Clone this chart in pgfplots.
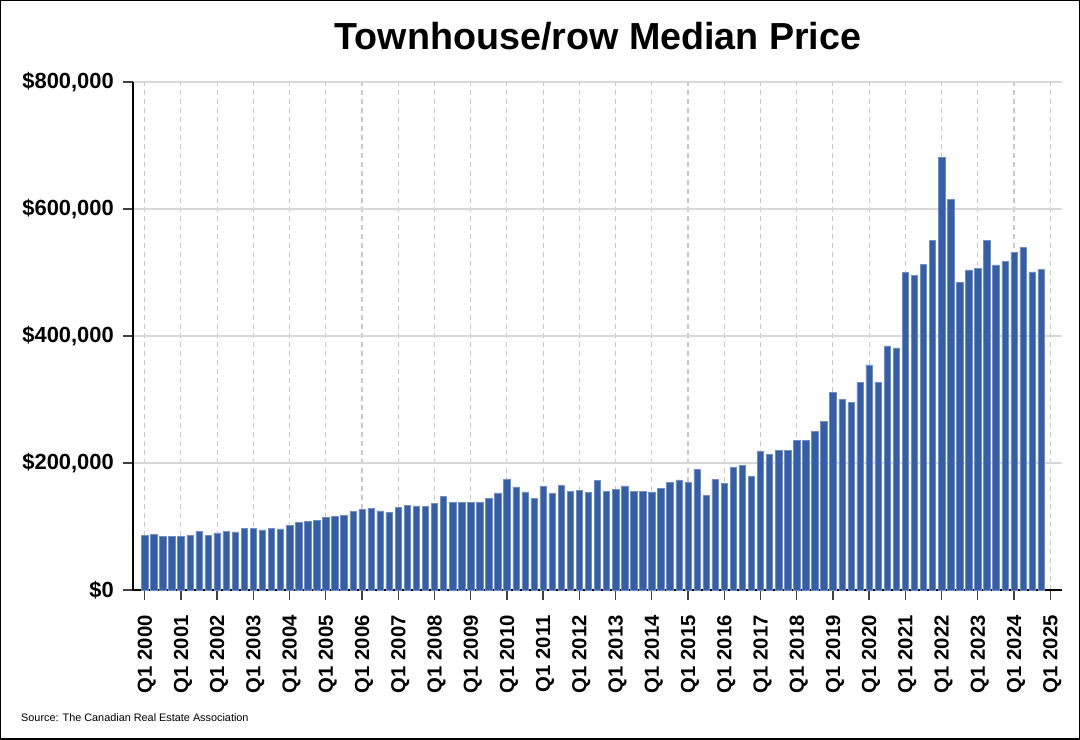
\documentclass[border=0pt]{standalone}
\usepackage{fontspec}
\setmainfont{Liberation Sans}
\usepackage{pgfplots}
\pgfplotsset{compat=1.18}
\usepackage{pgfplotstable}
\definecolor{barblue}{RGB}{52,94,168}
\definecolor{gridgray}{RGB}{215,215,215}
\definecolor{dashgray}{RGB}{200,200,200}
\pgfplotstableread{
x y
0 86000
1 87500
2 84000
3 84300
4 85000
5 86400
6 92700
7 86000
8 90000
9 92000
10 91700
11 97400
12 97000
13 94800
14 97400
15 96400
16 101600
17 106800
18 108400
19 109500
20 114700
21 116300
22 117400
23 123600
24 126800
25 128400
26 124600
27 122600
28 130000
29 133000
30 132500
31 132000
32 136700
33 147700
34 137800
35 137800
36 137800
37 138300
38 144000
39 153000
40 174400
41 162300
42 154500
43 144000
44 163400
45 152000
46 164500
47 155000
48 156700
49 154000
50 173000
51 155000
52 158200
53 164000
54 155600
55 155600
56 154500
57 159800
58 169200
59 173400
60 169700
61 189600
62 148800
63 174400
64 167600
65 193300
66 196400
67 178600
68 218400
69 213200
70 219500
71 219500
72 235200
73 235200
74 249800
75 265000
76 311000
77 300000
78 294900
79 326800
80 354600
81 327300
82 384400
83 381300
84 500000
85 495000
86 513000
87 550000
88 681000
89 615000
90 485000
91 504000
92 506000
93 550000
94 512000
95 517000
96 532000
97 540000
98 501000
99 505000
}\pricedata
\begin{document}
\begin{tikzpicture}[x=1bp,y=1bp]
\useasboundingbox (0,0) rectangle (1080,740);
\draw[line width=1.5bp] (0.75,0.75) rectangle (1079.25,739.25);
\begin{axis}[
  at={(133bp,150bp)}, anchor=south west,
  scale only axis, width=929bp, height=508bp,
  xmin=-1.29, xmax=101.3, ymin=0, ymax=800000,
  scaled y ticks=false,
  axis x line*=bottom, axis y line*=left,
  axis line style={line width=1.3bp, black},
  tick align=outside, major tick length=10bp,
  every tick/.style={line width=1.3bp, black!75},
  xtick={0,4,...,100},
  xticklabels={Q1 2000,Q1 2001,Q1 2002,Q1 2003,Q1 2004,Q1 2005,Q1 2006,Q1 2007,Q1 2008,Q1 2009,Q1 2010,Q1 2011,Q1 2012,Q1 2013,Q1 2014,Q1 2015,Q1 2016,Q1 2017,Q1 2018,Q1 2019,Q1 2020,Q1 2021,Q1 2022,Q1 2023,Q1 2024,Q1 2025},
  ytick={0,200000,400000,600000,800000},
  yticklabels={{\$0},{\$200,000},{\$400,000},{\$600,000},{\$800,000}},
  xticklabel style={rotate=90, anchor=east, inner sep=0pt, xshift=-15bp, yshift=-2bp, font=\bfseries\fontsize{20.4}{20.4}\selectfont},
  yticklabel style={anchor=east, inner sep=0pt, xshift=-9bp, font=\bfseries\fontsize{22}{22}\selectfont},
  xmajorgrids, ymajorgrids,
  x grid style={dashgray, line width=1.1bp, dash pattern=on 5bp off 4bp},
  y grid style={gridgray, line width=1.3bp},
  clip=false,
]
\addplot[ybar, bar width=6.4bp, fill=barblue, draw=barblue!70!white, line width=0.5bp] table[x=x,y=y] {\pricedata};
\end{axis}
\node[anchor=base, font=\bfseries\fontsize{37.8}{37.8}\selectfont] at (598,690) {Townhouse/row Median Price};
\node[anchor=west, inner sep=0pt, font=\fontsize{10.9}{10.9}\selectfont] at (21,22) {Source: The Canadian Real Estate Association};
\end{tikzpicture}
\end{document}
